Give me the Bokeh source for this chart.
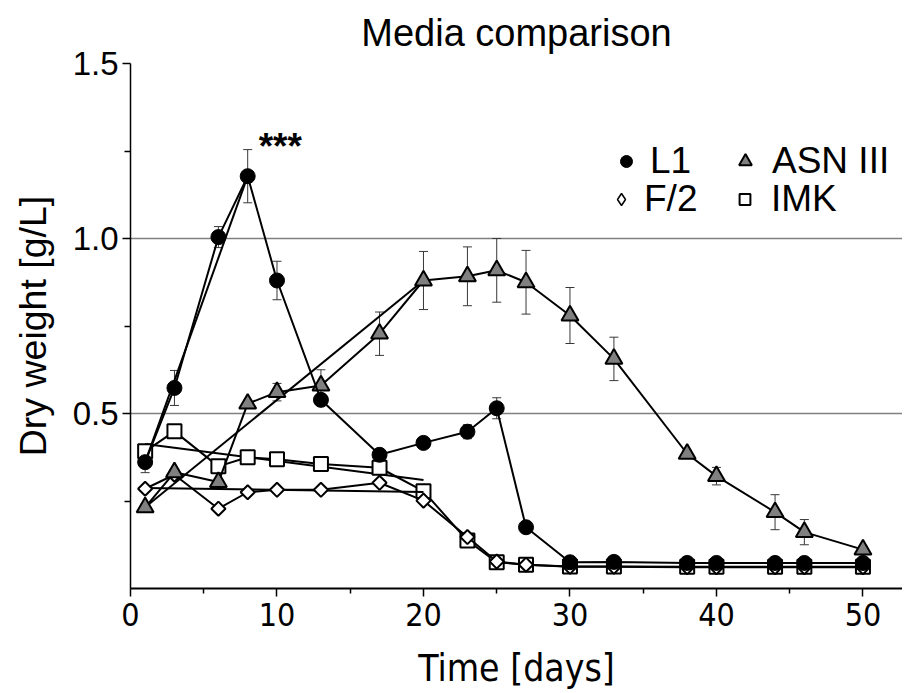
import math
from bokeh.plotting import figure
from bokeh.models import (FixedTicker, Whisker, TeeHead, ColumnDataSource, Legend,
                          LegendItem, Label, Range1d, PrintfTickFormatter)
from bokeh.embed import file_html
from bokeh.resources import INLINE

# ---------------- data ----------------
days = [1, 3, 6, 8, 10, 13, 17, 20, 23, 25, 27, 30, 33, 38, 40, 44, 46, 50]

l1_vals = [0.361, 0.573, 1.004, 1.178, 0.880, 0.539, 0.382, 0.416, 0.448, 0.515,
           0.175, 0.075, 0.076, 0.073, 0.073, 0.073, 0.073, 0.073]
l1_err = [0.030, 0.050, 0.030, 0.076, 0.055, 0.015, 0.010, 0.010, 0.020, 0.030,
          0.010, 0.005, 0.005, 0.005, 0.005, 0.005, 0.005, 0.005]

asn_vals = [0.232, 0.332, 0.304, 0.528, 0.561, 0.580, 0.728, 0.880, 0.892, 0.909,
            0.875, 0.780, 0.656, 0.385, 0.321, 0.218, 0.161, 0.111]
asn_err = [0.010, 0.010, 0.010, 0.010, 0.025, 0.045, 0.062, 0.083, 0.084, 0.091,
           0.091, 0.080, 0.062, 0.010, 0.025, 0.050, 0.036, 0.010]

f2_vals = [0.285, 0.325, 0.228, 0.275, 0.282, 0.282, 0.302, 0.251, 0.147, 0.077,
           0.068, 0.062, 0.062, 0.061, 0.061, 0.061, 0.061, 0.061]

imk_vals = [0.392, 0.449, 0.349, 0.375, 0.369, 0.356, 0.345, 0.278, 0.137, 0.075,
            0.068, 0.063, 0.063, 0.062, 0.062, 0.062, 0.062, 0.062]

# extra straight connector lines visible in the original figure
l1_trend_days, l1_trend_vals = [1, 8], [0.361, 1.178]
asn_trend_days, asn_trend_vals = [1, 20], [0.232, 0.880]
f2_trend_days, f2_trend_vals = [1, 20], [0.287, 0.276]
imk_trend_days, imk_trend_vals = [1, 20], [0.413, 0.310]

series_names = ["L1", "ASN III", "F/2", "IMK"]
title_text = "Media comparison"
x_label = "Time [days]"
y_label = "Dry weight [g/L]"
x_ticks = [0, 10, 20, 30, 40, 50]
x_minor = [5, 15, 25, 35, 45]
y_ticks = [0.5, 1.0, 1.5]
y_minor = [0.25, 0.75, 1.25]
star_text = "***"
star_day, star_val = 8.75, 1.263

# ---------------- figure ----------------
SANS = "Liberation Sans"
NARROW = "DejaVu Sans Condensed"
INK = "black"

p = figure(frame_width=772, frame_height=525,
           x_range=Range1d(0, 52.7), y_range=Range1d(0, 1.5),
           output_backend="svg", toolbar_location=None,
           min_border_left=130, min_border_top=0, min_border_right=0,
           min_border_bottom=0, title=title_text)
p.outline_line_color = None
p.background_fill_color = "white"
p.border_fill_color = "white"

p.title.text_font = SANS
p.title.text_font_size = "38px"
p.title.text_font_style = "normal"
p.title.text_color = INK
p.title.align = "center"
p.title.offset = 6
p.title.standoff = 19

# x axis
xa = p.xaxis[0]
xa.ticker = FixedTicker(ticks=x_ticks, minor_ticks=x_minor)
xa.axis_label = x_label
xa.axis_label_text_font = NARROW
xa.axis_label_text_font_size = "37px"
xa.axis_label_text_font_style = "normal"
xa.axis_label_text_color = INK
xa.axis_label_standoff = 18
xa.major_label_text_font = NARROW
xa.major_label_text_font_size = "32px"
xa.major_label_text_color = INK
xa.major_label_standoff = 6
xa.axis_line_width = 2
xa.axis_line_color = INK
xa.major_tick_line_width = 1.5
xa.minor_tick_line_width = 1.5
xa.major_tick_out = 8
xa.major_tick_in = 0
xa.minor_tick_out = 5
xa.minor_tick_in = 0

# y axis
ya = p.yaxis[0]
ya.ticker = FixedTicker(ticks=y_ticks, minor_ticks=y_minor)
ya.formatter = PrintfTickFormatter(format="%.1f")
ya.axis_label = y_label
ya.axis_label_text_font = SANS
ya.axis_label_text_font_size = "37.5px"
ya.axis_label_text_font_style = "normal"
ya.axis_label_text_color = INK
ya.axis_label_standoff = 16
ya.major_label_text_font = SANS
ya.major_label_text_font_size = "33px"
ya.major_label_text_color = INK
ya.major_label_standoff = 4
ya.axis_line_width = 1.5
ya.axis_line_color = INK
ya.major_tick_line_width = 1.5
ya.minor_tick_line_width = 1.5
ya.major_tick_out = 8
ya.major_tick_in = 0
ya.minor_tick_out = 6
ya.minor_tick_in = 0

p.xgrid.visible = False
p.ygrid.ticker = FixedTicker(ticks=y_ticks)
p.ygrid.grid_line_color = "#808080"
p.ygrid.grid_line_width = 1.5

# ---------------- error bars ----------------
def add_err(vals, errs):
    src = ColumnDataSource(dict(x=days,
                                lower=[v - e for v, e in zip(vals, errs)],
                                upper=[v + e for v, e in zip(vals, errs)]))
    w = Whisker(source=src, base="x", lower="lower", upper="upper",
                dimension="height", line_color="#383838", line_width=1,
                level="underlay")
    w.upper_head = TeeHead(size=9, line_color="#383838", line_width=1)
    w.lower_head = TeeHead(size=9, line_color="#383838", line_width=1)
    p.add_layout(w)

add_err(asn_vals, asn_err)
add_err(l1_vals, l1_err)

# ---------------- series (drawn IMK, F/2, ASN III, L1) ----------------
LW = 2
# IMK
p.line(imk_trend_days, imk_trend_vals, line_color=INK, line_width=LW)
p.line(days, imk_vals, line_color=INK, line_width=LW)
r_imk = p.scatter(days, imk_vals, marker="square", size=14, fill_color="white",
                  line_color=INK, line_width=2)
# F/2
p.line(f2_trend_days, f2_trend_vals, line_color=INK, line_width=LW)
p.line(days, f2_vals, line_color=INK, line_width=LW)
# diamond glyph used for the legend entry; hidden under the rotated squares
r_f2_leg = p.scatter(days, f2_vals, marker="diamond", size=8, fill_color="white",
                     line_color=INK, line_width=1.5)
r_f2 = p.scatter(days, f2_vals, marker="square", angle=math.pi / 4, size=10,
                 fill_color="white", line_color=INK, line_width=2)
# ASN III
p.line(asn_trend_days, asn_trend_vals, line_color=INK, line_width=LW)
p.line(days, asn_vals, line_color=INK, line_width=LW)
r_asn = p.scatter(days, asn_vals, marker="triangle", size=17, fill_color="#808080",
                  line_color=INK, line_width=2)
# L1
p.line(l1_trend_days, l1_trend_vals, line_color=INK, line_width=LW)
p.line(days, l1_vals, line_color=INK, line_width=LW)
r_l1 = p.scatter(days, l1_vals, marker="circle", size=15, fill_color=INK,
                 line_color=INK, line_width=1)

# significance marker
p.add_layout(Label(x=star_day, y=star_val, text=star_text, text_font=SANS,
                   text_font_size="37px", text_font_style="bold", text_color=INK,
                   text_baseline="alphabetic", text_align="left"))

# ---------------- legend (one small legend per entry) ----------------
def add_legend(name, rend, loc, gw, standoff):
    lg = Legend(items=[LegendItem(label=name, renderers=[rend])], location=loc,
                orientation="vertical", glyph_width=gw, glyph_height=38,
                label_height=38, label_standoff=standoff, spacing=0, padding=0,
                margin=0, border_line_color=None, background_fill_alpha=0,
                label_text_font=SANS, label_text_font_size="37px",
                label_text_color=INK)
    p.add_layout(lg)

add_legend(series_names[0], r_l1, (481, 406), 30, 9)
add_legend(series_names[1], r_asn, (599, 406), 32, 11)
add_legend(series_names[2], r_f2_leg, (476, 368), 30, 8)
add_legend(series_names[3], r_imk, (601, 368), 27, 13)

open("out.html", "w").write(file_html(p, INLINE))
